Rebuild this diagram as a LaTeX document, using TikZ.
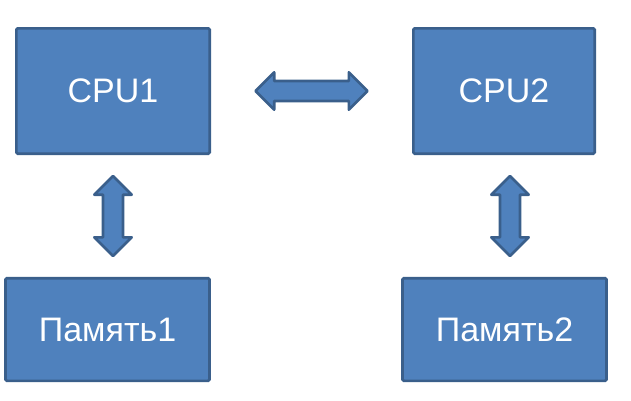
\documentclass[tikz,border=0pt]{standalone}
\usepackage{fontspec}
\setmainfont{Liberation Sans}
\usepackage{tikz}
\usetikzlibrary{shapes.arrows}

\definecolor{boxfill}{HTML}{4F81BD}
\definecolor{boxline}{HTML}{3A5F8B}

\tikzset{
  unit/.style={draw=boxline, fill=boxfill, line width=2pt, rounded corners=1pt,
    text=white, font=\fontsize{25.5}{30}\selectfont, inner sep=0pt},
  dblarrow/.style={double arrow, draw=boxline, fill=boxfill, line width=2pt,
    inner sep=0pt, text height=13pt, text depth=0pt, text width=0pt,
    double arrow head extend=6.5pt, line join=round}
}

\begin{document}
\begin{tikzpicture}[x=0.75pt,y=0.75pt,yscale=-1,xscale=1]
\useasboundingbox (0,0) rectangle (631,400);

% processors
\node [unit, minimum width=145pt, minimum height=94pt] (cpu1) at (113,91) {CPU1};
\node [unit, minimum width=136pt, minimum height=94pt] (cpu2) at (504,91) {CPU2};
% memory
\node [unit, minimum width=153pt, minimum height=77pt] (mem1) at (107.5,329.5) {Память1};
\node [unit, minimum width=153pt, minimum height=77pt] (mem2) at (504.5,329.5) {Память2};

% links
\node [dblarrow, minimum height=84pt] (link12) at (311.5,91) {};
\node [dblarrow, minimum height=60pt, rotate=90] (link1) at (113,216) {};
\node [dblarrow, minimum height=60pt, rotate=90] (link2) at (510,216) {};

\end{tikzpicture}
\end{document}
